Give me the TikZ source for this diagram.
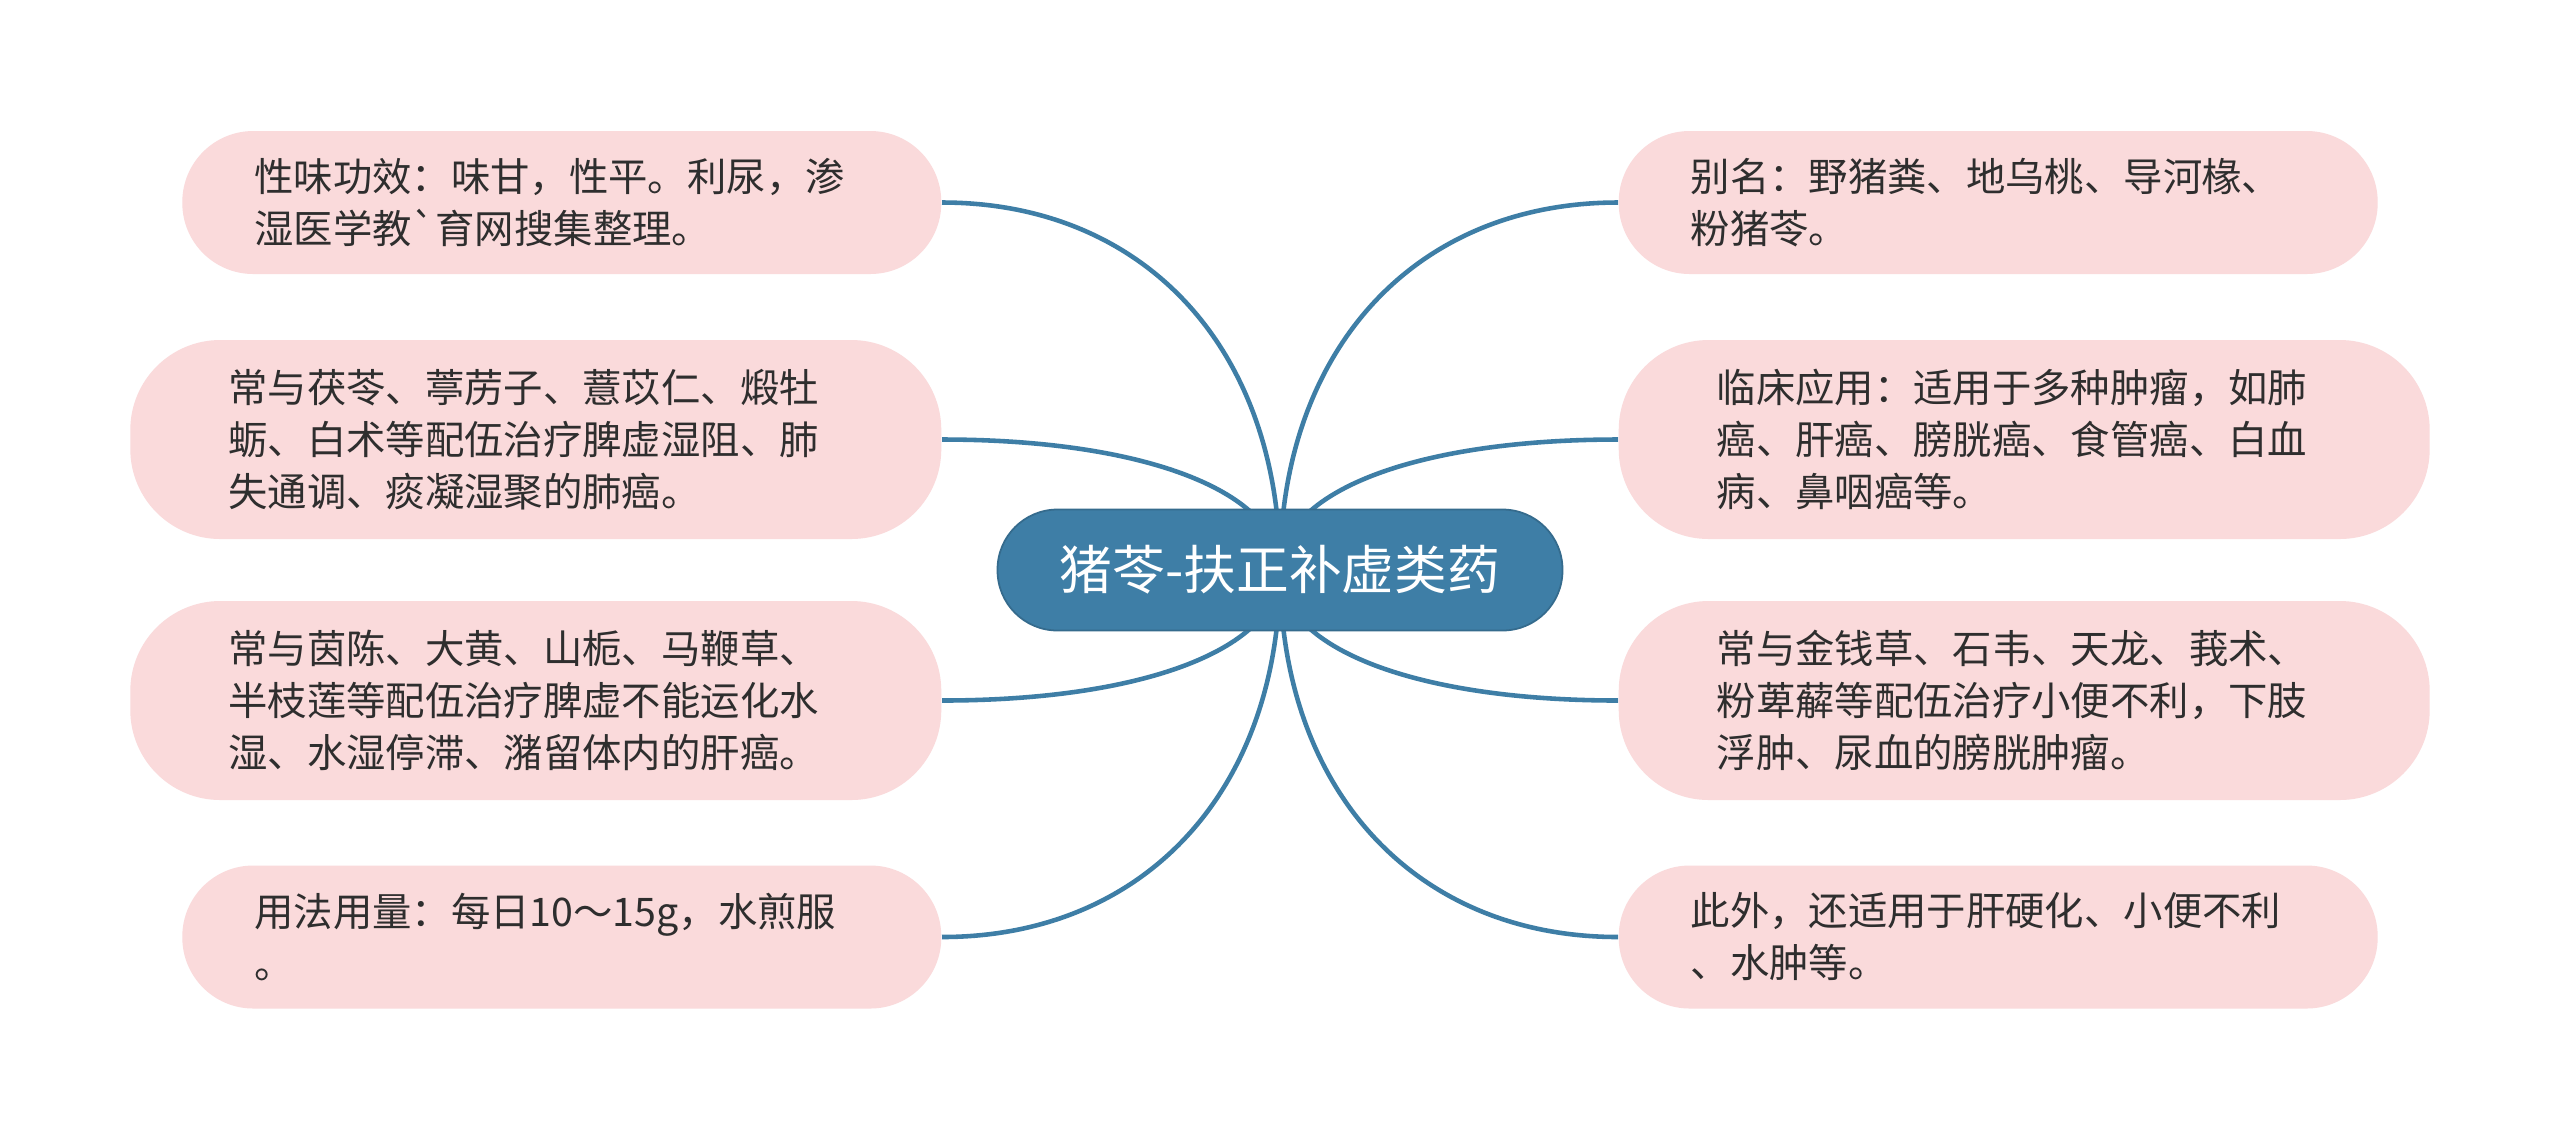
\documentclass[tikz,border=0pt]{standalone}
\usepackage{fontspec}
\setmainfont{Noto Sans CJK SC}[Ligatures=TeXOff]
\usepackage{tikz}
\usetikzlibrary{calc,backgrounds}
\definecolor{rootblue}{HTML}{3E7EA6}
\definecolor{leafpink}{HTML}{FADADB}
\definecolor{leaftext}{HTML}{2E2E2E}

\begin{document}
\begin{tikzpicture}[main node/.style={rectangle,rounded corners=0.6cm,fill=rootblue,draw=rootblue!85!black,line width=0.5pt,
                      text=white,minimum width=5.65cm,minimum height=1.21cm,font=\fontsize{15}{18}\selectfont},
                    sub node/.style={rectangle,fill=leafpink,text=leaftext,text width=6.15cm,align=left,
                      inner ysep=0pt,font=\fontsize{11.2}{14.8}\selectfont},
                    small leaf/.style={sub node,minimum height=1.43cm,rounded corners=0.71cm,inner xsep=0.72cm},
                    big leaf/.style={sub node,minimum height=1.99cm,rounded corners=0.9cm,inner xsep=0.98cm},
                    branch/.style={draw=rootblue,line width=1.3pt,
                      to path={.. controls ($(\tikztostart)!0.6!(\tikztostart|-\tikztotarget)$)
                               and ($(\tikztotarget)!0.6!(\tikztostart|-\tikztotarget)$) .. (\tikztotarget)}}]
  \useasboundingbox (0,0) rectangle (25.6,-11.42);
  \node[main node] (root) at (12.80,-5.70) {猪苓-扶正补虚类药};
  \node[small leaf,anchor=east] (L1) at (9.42,-2.025) {性味功效：味甘，性平。利尿，渗\\湿医学教`育网搜集整理。};
  \node[big leaf,anchor=east] (L2) at (9.42,-4.395) {常与茯苓、葶苈子、薏苡仁、煅牡\\蛎、白术等配伍治疗脾虚湿阻、肺\\失通调、痰凝湿聚的肺癌。};
  \node[big leaf,anchor=east] (L3) at (9.42,-7.005) {常与茵陈、大黄、山栀、马鞭草、\\半枝莲等配伍治疗脾虚不能运化水\\湿、水湿停滞、潴留体内的肝癌。};
  \node[small leaf,anchor=east] (L4) at (9.42,-9.37) {用法用量：每日10～15g，水煎服\\。};
  \node[small leaf,anchor=west] (R1) at (16.18,-2.025) {别名：野猪粪、地乌桃、导河椽、\\粉猪苓。};
  \node[big leaf,anchor=west] (R2) at (16.18,-4.395) {临床应用：适用于多种肿瘤，如肺\\癌、肝癌、膀胱癌、食管癌、白血\\病、鼻咽癌等。};
  \node[big leaf,anchor=west] (R3) at (16.18,-7.005) {常与金钱草、石韦、天龙、莪术、\\粉萆薢等配伍治疗小便不利，下肢\\浮肿、尿血的膀胱肿瘤。};
  \node[small leaf,anchor=west] (R4) at (16.18,-9.37) {此外，还适用于肝硬化、小便不利\\、水肿等。};
  \begin{scope}[on background layer]
    \fill[white] (0,0) rectangle (25.6,-11.42);
    \path (root.center) edge[branch] (L1.east)
          (root.center) edge[branch] (L2.east)
          (root.center) edge[branch] (L3.east)
          (root.center) edge[branch] (L4.east)
          (root.center) edge[branch] (R1.west)
          (root.center) edge[branch] (R2.west)
          (root.center) edge[branch] (R3.west)
          (root.center) edge[branch] (R4.west);
  \end{scope}
\end{tikzpicture}
\end{document}
